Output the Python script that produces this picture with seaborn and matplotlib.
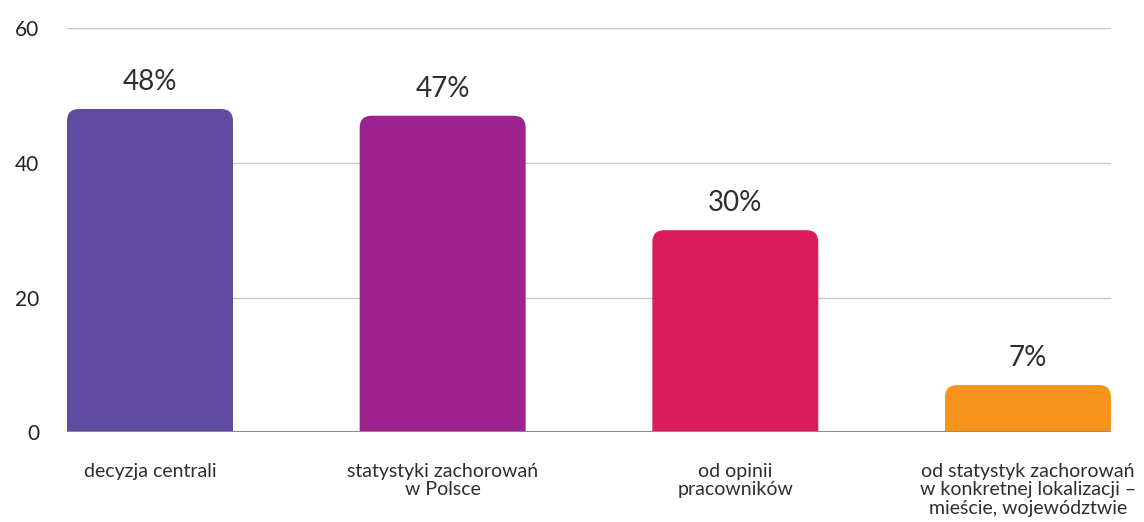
import matplotlib
matplotlib.use('Agg')
from matplotlib import pyplot as plt
from matplotlib.patches import FancyBboxPatch
import seaborn as sns
import pandas as pd

# データ
categories = [
    'decyzja centrali',
    'statystyki zachorowań\nw Polsce',
    'od opinii\npracowników',
    'od statystyk zachorowań\nw konkretnej lokalizacji –\nmieście, województwie',
]
values = [48, 47, 30, 7]
bar_colors = ['#5E4A9E', '#9E228E', '#DA1C5C', '#F7941E']
y_ticks = [0, 20, 40, 60]

df = pd.DataFrame({'kategoria': categories, 'wartosc': values})

sns.set_theme(style='white')
plt.rcParams['font.family'] = ['Lato', 'DejaVu Sans']

fig = plt.figure(figsize=(11.44, 5.22), dpi=100)
ax = fig.add_axes([0.0586, 0.172, 0.9125, 0.774])

sns.barplot(data=df, x='kategoria', y='wartosc', hue='kategoria',
            palette=bar_colors, width=0.567, legend=False, ax=ax,
            saturation=1)

ax.set_xlim(-0.2835, 3.2835)
ax.set_ylim(0, 60)

# 角丸の棒に置き換える
px_x = ax.bbox.width / 3.567
px_y = ax.bbox.height / 60
r = 12 / px_x
aspect = px_x / px_y
for patch, color in zip(list(ax.patches), bar_colors):
    x0, w, h = patch.get_x(), patch.get_width(), patch.get_height()
    patch.remove()
    ext = 3
    rounded = FancyBboxPatch(
        (x0, -ext), w, h + ext,
        boxstyle=f'round,pad=0,rounding_size={r}',
        mutation_aspect=aspect,
        facecolor=color, edgecolor='none', zorder=2, clip_on=True)
    ax.add_patch(rounded)
    ax.annotate(f'{int(h)}%', (x0 + w / 2, h), xytext=(0, 10),
                textcoords='offset points', ha='center', va='bottom',
                fontsize=20, color='#2E2E2E')

ax.set_yticks(y_ticks)
ax.yaxis.grid(True, color='#C8C8C8', linewidth=1)
ax.set_axisbelow(True)
ax.axhline(0, color='#8A8A8A', linewidth=1.5, zorder=3)
for s in ax.spines.values():
    s.set_visible(False)

ax.tick_params(axis='y', length=0, pad=20, labelsize=15, labelcolor='#222222')
ax.tick_params(axis='x', length=0, pad=22, labelsize=14, labelcolor='#2E2E2E')
for lbl in ax.get_xticklabels():
    lbl.set_multialignment('center')
    lbl.set_linespacing(1.1)
ax.set_xlabel('')
ax.set_ylabel('')

fig.savefig('out.png', dpi=100)
